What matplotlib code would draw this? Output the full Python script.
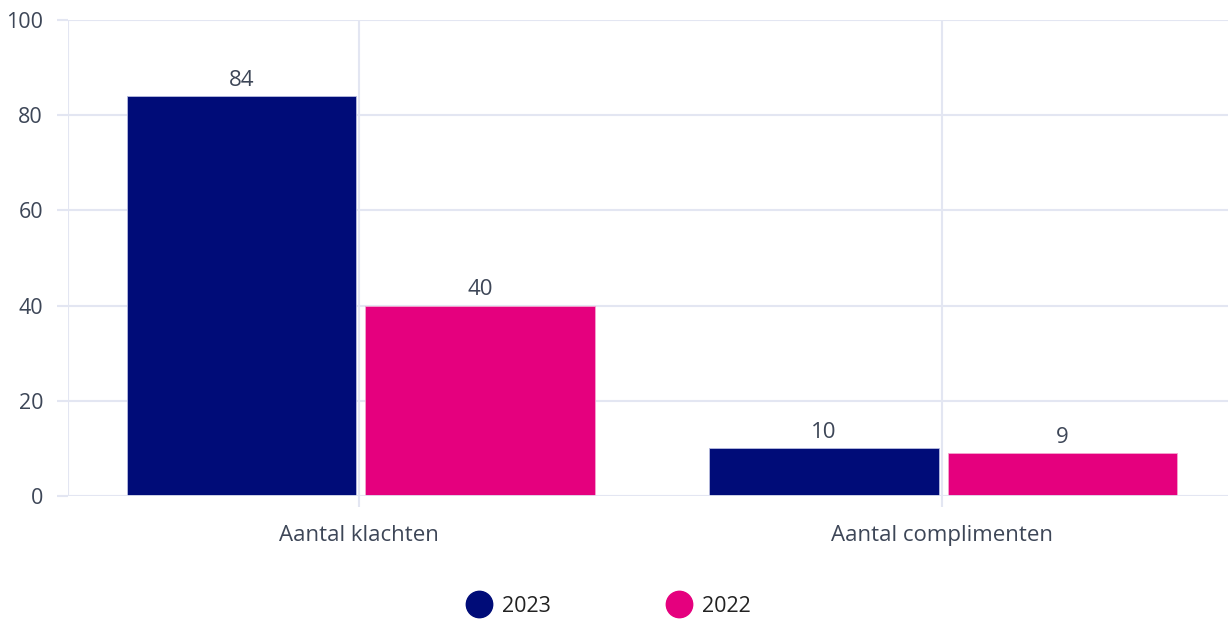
import matplotlib
matplotlib.use("Agg")
import matplotlib.pyplot as plt
from matplotlib.lines import Line2D
import numpy as np

plt.rcParams['font.family'] = ['Open Sans', 'DejaVu Sans']

categories = ["Aantal klachten", "Aantal complimenten"]
series_names = ["2023", "2022"]
values_2023 = [84, 10]
values_2022 = [40, 9]
yticks = [0, 20, 40, 60, 80, 100]

colors = ["#000C78", "#E5007E"]
grid_c = "#E3E6F2"
tick_c = "#3D4657"

W, H = 1228, 620
fig = plt.figure(figsize=(W/100, H/100), dpi=100)
left, right = 68, 1233
bottom, top = 496, 20
ax = fig.add_axes([left/W, (H-bottom)/H, (right-left)/W, (bottom-top)/H])

x = np.arange(len(categories))
offsets = [-0.202, 0.207]
bw = 0.394
for i, (vals, c) in enumerate(zip([values_2023, values_2022], colors)):
    pos = x + offsets[i]
    ax.bar(pos, vals, width=bw, color=c, zorder=3,
           edgecolor="#B8BCE0" if i == 0 else "#F4A6CF", linewidth=0.6)
    for p, v in zip(pos, vals):
        ax.annotate(str(v), (p, v), xytext=(0, 4), textcoords="offset points",
                    ha="center", va="bottom", fontsize=16, color=tick_c)

ax.set_xlim(-0.5, len(categories) - 0.5)
ax.set_ylim(0, 100)
ax.set_yticks(yticks)
ax.set_xticks(x)
ax.set_xticklabels(categories)
ax.grid(True, color=grid_c, linewidth=1.5, zorder=0)
for s in ax.spines.values():
    s.set_visible(False)
ax.axvline(-0.5, color=grid_c, linewidth=1.5, zorder=1)
ax.axhline(0, color=grid_c, linewidth=2, zorder=4)
ax.tick_params(axis="both", colors=grid_c, length=8, width=1.5, labelcolor=tick_c)
ax.tick_params(axis="x", pad=13, labelsize=16)
ax.tick_params(axis="y", pad=10, labelsize=15.5)

handles = [Line2D([0], [0], marker="o", linestyle="", markersize=19, markerfacecolor=c, markeredgecolor=c) for c in colors]
fig.legend(handles, series_names, loc="center", bbox_to_anchor=(604/W, (H-606)/H), ncol=2, frameon=False,
           fontsize=15.5, handletextpad=0.08, columnspacing=4.95, labelcolor="#222222")

fig.savefig("out.png", dpi=100, facecolor="white")
